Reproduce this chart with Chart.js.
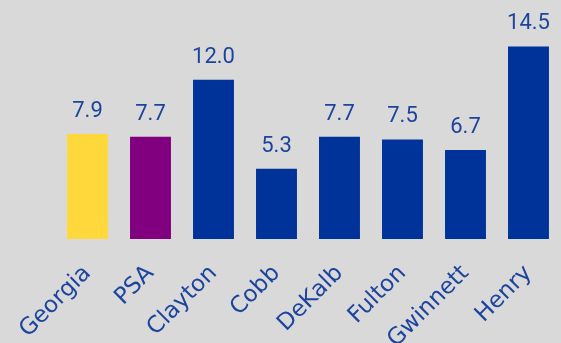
<!DOCTYPE html>
<html>
<head>
<meta charset="utf-8">
<script src="https://cdn.jsdelivr.net/npm/chart.js@4"></script>
<style>
  html, body { margin: 0; padding: 0; background: #d9d9d9; }
  #wrap { width: 561px; height: 343px; position: relative; }
</style>
</head>
<body>
<div id="wrap"><canvas id="chart"></canvas></div>
<script>
// === DATOS ===
const categorias = ["Georgia", "PSA", "Clayton", "Cobb", "DeKalb", "Fulton", "Gwinnett", "Henry"];
const valores = [7.9, 7.7, 12.0, 5.3, 7.7, 7.5, 6.7, 14.5];
const colores = ["#ffd93b", "#800080", "#003399", "#003399", "#003399", "#003399", "#003399", "#003399"];

const azulTexto = "#1c449e";

// etiquetas de valor encima de cada barra
const etiquetasValor = {
  id: "etiquetasValor",
  afterDatasetsDraw(chart) {
    const ctx = chart.ctx;
    const meta = chart.getDatasetMeta(0);
    ctx.save();
    ctx.fillStyle = azulTexto;
    ctx.font = "22px Roboto, sans-serif";
    ctx.textAlign = "center";
    ctx.textBaseline = "alphabetic";
    meta.data.forEach((bar, i) => {
      ctx.fillText(valores[i].toFixed(1), bar.x, bar.y - 17);
    });
    ctx.restore();
  }
};

new Chart(document.getElementById("chart"), {
  type: "bar",
  data: {
    labels: categorias,
    datasets: [{
      data: valores,
      backgroundColor: colores,
      borderWidth: 0,
      barPercentage: 0.65,
      categoryPercentage: 1
    }]
  },
  options: {
    responsive: true,
    maintainAspectRatio: false,
    animation: false,
    layout: { padding: { left: 56, right: 0, top: 0, bottom: 0 } },
    plugins: { legend: { display: false }, tooltip: { enabled: false } },
    scales: {
      x: {
        grid: { display: false },
        border: { display: false },
        ticks: {
          color: azulTexto,
          font: { size: 23, family: "'DejaVu Sans', sans-serif" },
          minRotation: 45,
          maxRotation: 45,
          padding: 13
        },
        afterFit(scale) { scale.height = 104; }
      },
      y: {
        display: false,
        min: 0,
        max: 18
      }
    }
  },
  plugins: [etiquetasValor]
});
</script>
</body>
</html>
